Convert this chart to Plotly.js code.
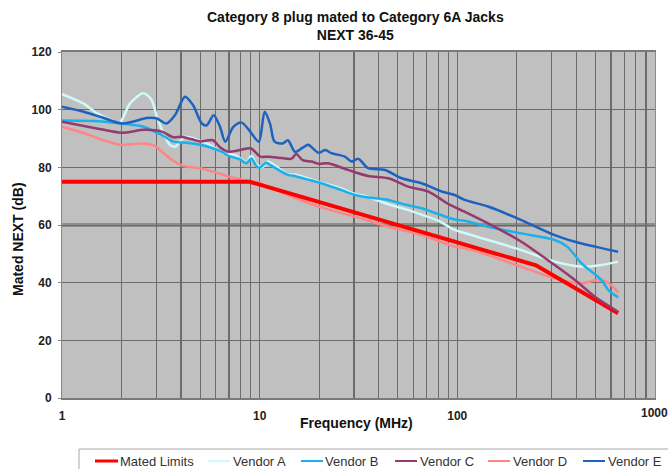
<!DOCTYPE html>
<html>
<head>
<meta charset="utf-8">
<script src="https://cdn.plot.ly/plotly-3.0.1.min.js"></script>
<style>html,body{margin:0;padding:0;background:#fff;}#chart{width:668px;height:469px;}</style>
</head>
<body>
<div id="chart"></div>
<script>
// ---- data ----
const limitFreq = [1, 8.9, 10, 20, 50, 100, 250, 400, 500, 651];
const limitVal  = [75, 75, 74, 68, 60, 54, 46, 37.9, 34, 29.4];

const freqA = [1, 1.28, 1.5, 1.75, 1.95, 2.21, 2.58, 2.84, 3.0, 3.26, 3.52, 3.73, 4.19, 4.85, 5.6, 6.54, 7.5, 8.1, 8.57, 9.08, 9.7, 10.4, 11, 12, 13.9, 15, 17, 20.5, 25, 30.4, 35, 44.8, 55, 66, 80, 97, 109, 143, 211, 311, 394, 460, 537, 651];
const valA  = [105.4, 102.2, 98.8, 96.5, 95.3, 102.2, 105.7, 103.4, 98.2, 91.8, 87.8, 87.2, 90.6, 89.5, 87.8, 84.9, 84.3, 82.8, 81.6, 83.9, 80.8, 80.2, 82, 80.5, 77.6, 77.5, 76.5, 74.7, 73, 70.8, 69.8, 67.2, 65.4, 63.6, 61.5, 58.3, 57.2, 54.8, 51.3, 47.3, 45.8, 45.6, 46.1, 47.3];

const freqB = [1, 1.5, 2, 2.58, 3.2, 3.66, 4.27, 5.0, 5.8, 6.5, 7.0, 7.95, 8.57, 9.08, 9.7, 10.1, 10.8, 11.5, 13.9, 15, 17, 20.5, 25, 30.4, 35, 44.8, 55, 66, 80, 97, 109, 143, 211, 311, 360, 425, 537, 580, 651];
const valB  = [96.2, 96, 95.2, 94.1, 91.2, 88.9, 88.5, 87.8, 86.6, 85.2, 83.9, 82.8, 81.4, 83.1, 80.2, 80, 81.6, 80.5, 77.4, 77, 76, 74.5, 72.5, 70.4, 69.6, 68.7, 67, 65.8, 63.8, 61.9, 61.5, 59.4, 57.1, 54.8, 52.5, 46.7, 40.9, 37.5, 34.9];

const freqC = [1, 1.5, 2, 2.6, 3.2, 3.66, 4.0, 4.5, 5.0, 5.8, 6.3, 6.96, 7.95, 9.0, 10.1, 11.1, 13, 14.5, 15.3, 16.5, 18.3, 20, 22.2, 28, 35.4, 44.8, 56.5, 71.4, 90, 109, 143, 211, 311, 394, 497, 651];
const valC  = [95.8, 93.5, 92, 93, 92.4, 90.4, 90.6, 89.8, 89, 89.4, 87, 85.4, 86, 86.6, 83.7, 83.7, 83.2, 83, 84.6, 82.5, 82, 81.2, 81.4, 79.1, 77, 76.2, 73.3, 71.6, 67.3, 64.6, 60.6, 54.2, 46.1, 40.9, 35.1, 29.9];

const freqD = [1, 1.3, 1.6, 2, 2.58, 2.93, 3.2, 3.52, 4.1, 5.0, 5.8, 6.96, 7.95, 10.1, 11, 13.9, 20.5, 30.4, 44.8, 66, 97, 109, 143, 211, 311, 425, 510, 570, 615, 651];
const valD  = [94.1, 91.8, 89.5, 87.8, 88.3, 87.5, 85.5, 83.1, 80.5, 79.7, 78.5, 76.8, 75.9, 74.5, 73.3, 70.4, 66.1, 62.9, 59.4, 56.5, 52.5, 51.9, 49.6, 45.5, 41.5, 39.8, 40.9, 40.3, 38.5, 36.5];

const freqE = [1, 1.3, 1.6, 2, 2.27, 2.68, 3.0, 3.38, 3.73, 4.19, 4.6, 5.1, 5.4, 5.85, 6.3, 6.7, 7.36, 8.1, 8.94, 9.9, 10.6, 11.3, 11.9, 13.1, 13.9, 15.1, 16.5, 17.6, 19.8, 21.5, 23.1, 27, 29.2, 31.5, 35.4, 43.1, 52.3, 66, 83.4, 97, 109, 143, 211, 311, 394, 497, 651];
const valE  = [101, 99.2, 97.3, 95.2, 95.8, 97.1, 97, 95.2, 98.1, 104.5, 101.6, 95.2, 94.6, 98.1, 94.1, 88.9, 94, 95.5, 92.5, 88.9, 99.3, 95, 88.9, 88.3, 89.4, 85.4, 86.8, 87.8, 85.1, 86, 84.9, 83.7, 82, 83, 79.7, 79.1, 76.2, 74.5, 71.6, 70.4, 68.7, 66.4, 61.7, 56.5, 54.2, 52.5, 50.7];

const seriesNames = ['Mated Limits', 'Vendor A', 'Vendor B', 'Vendor C', 'Vendor D', 'Vendor E'];
const xTickVals = [1,2,3,4,5,6,7,8,9,10,20,30,40,50,60,70,80,90,100,200,300,400,500,600,700,800,900,1000];
const xTickText = ['1','','','','','','','','','10','','','','','','','','','100','','','','','','','','',''];
const lastXTickLabel = '1000';
const yTickVals = [0, 20, 40, 60, 80, 100, 120];

// ---- styling ----
const colors = ['#ff0000', '#cdfafa', '#1cb0ea', '#953a6e', '#ff8585', '#1e62c0'];
const widths = [4, 2.5, 2.5, 2.5, 2.5, 2.5];
const xs = [limitFreq, freqA, freqB, freqC, freqD, freqE];
const ys = [limitVal, valA, valB, valC, valD, valE];

const order = [4, 0, 1, 2, 3, 5];
const traces = order.map(i => ({
  type: 'scatter', mode: 'lines', name: seriesNames[i],
  x: xs[i], y: ys[i],
  line: {color: colors[i], width: widths[i], shape: i === 0 ? 'linear' : 'spline', smoothing: 0.8},
  showlegend: false, hoverinfo: 'skip'
}));

// plot area in pixels
const L = 62, R = 655, T = 52, B = 398;
const px = v => (v - L) / (R - L);
const py = v => (B - v) / (B - T);

const fontFam = 'Liberation Sans, Arial, sans-serif';
const shapes = [
  {type: 'line', xref: 'paper', yref: 'y', x0: 0, x1: 1, y0: 60, y1: 60, layer: 'below', line: {color: '#8e8e8e', width: 4}},
  {type: 'rect', xref: 'paper', yref: 'paper', x0: px(79), x1: px(720), y0: py(449), y1: py(490), line: {color: '#a8a8a8', width: 1}, fillcolor: 'rgba(0,0,0,0)'}
];
const legendLineX = [[95, 118], [208, 230], [301, 323], [395, 417], [488, 510], [583, 605]];
const legendTextX = [118, 231, 323, 418, 511, 606];
const legY = 461;
const annotations = [
  {xref: 'paper', yref: 'paper', x: px(355), y: py(26), text: 'Category 8 plug mated to Category 6A Jacks<br>NEXT 36-45', showarrow: false, xanchor: 'center', yanchor: 'middle', font: {family: fontFam, size: 14, color: '#111', weight: 'bold'}},
  {xref: 'paper', yref: 'paper', x: px(356), y: py(423), text: '<b>Frequency (MHz)</b>', showarrow: false, xanchor: 'center', yanchor: 'middle', font: {family: fontFam, size: 14, color: '#111'}},
  {xref: 'paper', yref: 'paper', x: px(18), y: py(239), text: '<b>Mated NEXT (dB)</b>', textangle: -90, showarrow: false, xanchor: 'center', yanchor: 'middle', font: {family: fontFam, size: 14, color: '#111'}},
  {xref: 'x', yref: 'paper', x: 3, y: py(413), text: '<b>' + lastXTickLabel + '</b>', showarrow: false, xanchor: 'center', yanchor: 'middle', font: {family: fontFam, size: 12, color: '#222'}}
];
seriesNames.forEach((n, i) => {
  shapes.push({type: 'line', xref: 'paper', yref: 'paper', x0: px(legendLineX[i][0]), x1: px(legendLineX[i][1]), y0: py(legY), y1: py(legY), line: {color: colors[i], width: i === 0 ? 3 : 2}});
  annotations.push({xref: 'paper', yref: 'paper', x: px(legendTextX[i]), y: py(legY), text: n, showarrow: false, xanchor: 'left', yanchor: 'middle', font: {family: fontFam, size: 13, color: '#333'}});
});

const layout = {
  width: 668, height: 469,
  margin: {l: L, r: 668 - R, t: T, b: 469 - B},
  paper_bgcolor: '#ffffff', plot_bgcolor: '#c0c0c0',
  showlegend: false,
  xaxis: {
    type: 'log', range: [0, 3.0003], tickvals: xTickVals, ticktext: xTickText,
    showgrid: true, gridcolor: '#6c6c6c', gridwidth: 1.2,
    showline: true, linecolor: '#7a7a7a', linewidth: 2, mirror: true,
    ticks: '', ticklabelstandoff: 6,
    tickfont: {family: fontFam, size: 12, color: '#222', weight: 'bold'},
    zeroline: false, fixedrange: true
  },
  yaxis: {
    range: [0, 120], tickvals: yTickVals,
    showgrid: true, gridcolor: '#6c6c6c', gridwidth: 1,
    showline: true, linecolor: '#8a8a8a', linewidth: 1, mirror: true,
    ticks: 'outside', ticklen: 3, tickcolor: '#888', ticklabelstandoff: 4,
    tickfont: {family: fontFam, size: 12, color: '#222', weight: 'bold'},
    zeroline: false, fixedrange: true
  },
  shapes: shapes,
  annotations: annotations
};

Plotly.newPlot('chart', traces, layout, {staticPlot: true, displayModeBar: false});
</script>
</body>
</html>
